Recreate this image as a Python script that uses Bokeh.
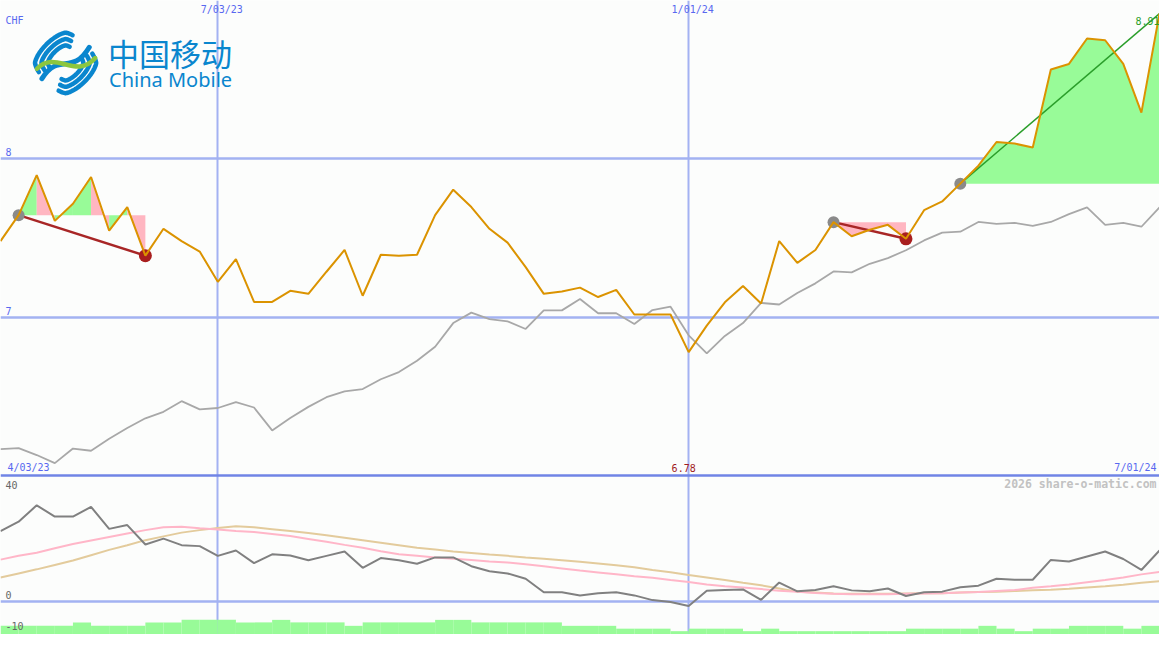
import numpy as np
import pandas as pd
from bokeh.plotting import figure
from bokeh.models import Range1d
from bokeh.core.properties import value
from bokeh.embed import file_html
from bokeh.resources import INLINE

# ---------------- data (weekly closes, CHF) ----------------
dates = pd.date_range("2023-04-10", periods=65, freq="7D")

price = [7.479, 7.642, 7.894, 7.606, 7.714, 7.882, 7.544, 7.693, 7.387, 7.556,
         7.479, 7.413, 7.223, 7.366, 7.096, 7.096, 7.166, 7.147, 7.286, 7.423,
         7.135, 7.393, 7.387, 7.393, 7.642, 7.802, 7.693, 7.556, 7.469, 7.315,
         7.147, 7.162, 7.186, 7.127, 7.172, 7.017, 7.017, 7.017, 6.780, 6.947,
         7.094, 7.196, 7.086, 7.479, 7.342, 7.423, 7.598, 7.509, 7.550, 7.581,
         7.493, 7.673, 7.728, 7.840, 7.953, 8.102, 8.092, 8.067, 8.558, 8.593,
         8.753, 8.742, 8.593, 8.287, 8.910]

benchmark = [6.170, 6.176, 6.133, 6.082, 6.174, 6.160, 6.236, 6.303, 6.364, 6.405,
             6.472, 6.420, 6.429, 6.466, 6.432, 6.288, 6.366, 6.436, 6.497, 6.534,
             6.548, 6.610, 6.655, 6.726, 6.814, 6.963, 7.029, 6.988, 6.974, 6.926,
             7.043, 7.043, 7.115, 7.025, 7.025, 6.957, 7.045, 7.066, 6.886, 6.773,
             6.882, 6.963, 7.090, 7.080, 7.152, 7.213, 7.288, 7.282, 7.336, 7.372,
             7.421, 7.483, 7.532, 7.538, 7.599, 7.587, 7.593, 7.575, 7.599, 7.648,
             7.691, 7.581, 7.593, 7.569, 7.691]

momentum = [22.3, 25.3, 30.5, 26.9, 26.9, 30.0, 23.0, 24.2, 18.0, 19.9,
            17.8, 17.5, 14.4, 16.1, 12.1, 14.9, 14.5, 13.0, 14.4, 15.8,
            10.6, 13.7, 13.0, 11.9, 13.9, 13.9, 11.1, 9.5, 8.8, 7.1,
            2.8, 2.8, 1.8, 2.5, 2.8, 1.8, 0.3, -0.3, -1.6, 3.3,
            3.5, 3.7, 0.4, 5.9, 3.1, 3.5, 4.7, 3.4, 3.1, 4.0,
            1.6, 2.8, 3.0, 4.4, 4.9, 7.1, 6.8, 6.8, 13.1, 12.6,
            14.2, 15.8, 13.4, 9.9, 16.1]

momentum_fast = [13.2, 14.4, 15.4, 16.8, 18.2, 19.3, 20.4, 21.5, 22.6, 23.5,
                 23.7, 23.2, 22.8, 22.3, 22.0, 21.4, 20.7, 19.8, 18.9, 17.9,
                 17.0, 15.9, 14.9, 14.4, 13.9, 13.5, 13.1, 12.6, 12.3, 11.7,
                 11.1, 10.4, 9.7, 9.1, 8.5, 7.9, 7.4, 6.7, 6.1, 5.3,
                 4.7, 4.3, 3.8, 3.3, 3.0, 2.6, 2.3, 2.2, 2.2, 2.2,
                 2.3, 2.4, 2.5, 2.7, 2.9, 3.2, 3.5, 4.2, 4.7, 5.3,
                 6.0, 6.7, 7.5, 8.5, 9.3]

momentum_slow = [7.5, 8.8, 10.1, 11.5, 12.9, 14.6, 16.3, 17.8, 19.4, 20.6,
                 21.8, 22.6, 23.3, 23.8, 23.5, 22.9, 22.3, 21.7, 21.0, 20.2,
                 19.4, 18.6, 17.8, 17.0, 16.4, 15.8, 15.3, 14.8, 14.4, 13.9,
                 13.5, 13.0, 12.5, 12.0, 11.4, 10.8, 9.9, 9.2, 8.3, 7.5,
                 6.7, 5.8, 5.0, 4.0, 3.0, 2.7, 2.4, 2.3, 2.3, 2.3,
                 2.4, 2.5, 2.5, 2.7, 2.9, 3.0, 3.2, 3.4, 3.6, 3.9,
                 4.3, 4.7, 5.2, 5.8, 6.3]

# weekly volume bars, expressed in lower-panel units
volume_level = [-7.9, -7.9, -7.9, -7.9, -6.8, -7.9, -7.9, -7.9, -6.8, -6.8,
                -6.0, -6.0, -6.0, -6.8, -6.8, -6.0, -6.8, -6.8, -6.8, -7.9,
                -6.8, -6.8, -6.8, -6.8, -6.0, -6.0, -6.8, -6.8, -6.8, -6.8,
                -6.8, -7.9, -7.9, -7.9, -8.8, -8.8, -8.8, -9.6, -8.8, -8.8,
                -8.8, -9.6, -8.8, -9.6, -9.6, -9.6, -9.6, -9.6, -9.6, -9.6,
                -8.8, -8.8, -8.8, -8.8, -7.9, -8.8, -9.6, -8.8, -8.8, -7.9,
                -7.9, -7.9, -8.8, -7.9]

closed_signals = [(1, 8), (46, 50)]
open_signal = (53, 64)

grid_dates = [pd.Timestamp("2023-07-03"), pd.Timestamp("2024-01-01")]
grid_date_labels = ["7/03/23", "1/01/24"]
price_ticks = [8, 7]
osc_ticks = [40, 0, -10]
edge_labels = ["4/03/23", "7/01/24"]

# ---------------- geometry / styling ----------------
REF_W, REF_H = 1175, 650
Y_AT_8, PX_PER_CHF = 161.7, 163.0
Y_AT_0, PX_PER_UNIT = 615.7, 3.2175
BG = "#FCFDFC"
GRID = "#A3B2F2"
SEP = "#7084E6"
BLUE_TXT = "#5868F0"
MONO = value("DejaVu Sans Mono")
PRICE_C = "#DB9300"
UP_FILL = "#98FB98"
DOWN_FILL = "#FFB6C1"

p = figure(width=1159, height=634,
           x_range=Range1d(0, REF_W), y_range=Range1d(REF_H, 0),
           x_axis_type=None, y_axis_type=None,
           output_backend="svg", toolbar_location=None,
           min_border=0, outline_line_color=None,
           background_fill_color=BG, border_fill_color=BG)
p.extra_x_ranges = {"date": Range1d(dates[0].to_pydatetime(), dates[-1].to_pydatetime())}
p.extra_y_ranges = {
    "price": Range1d(8 - (REF_H - Y_AT_8) / PX_PER_CHF, 8 + Y_AT_8 / PX_PER_CHF),
    "osc": Range1d(-(REF_H - Y_AT_0) / PX_PER_UNIT, Y_AT_0 / PX_PER_UNIT),
}

D = dict(x_range_name="date", y_range_name="price")
O = dict(x_range_name="date", y_range_name="osc")

# grid
p.vspan(x=grid_dates, x_range_name="date", line_color=GRID, line_width=2)
p.hspan(y=price_ticks, y_range_name="price", line_color=GRID, line_width=2.5)
p.hspan(y=[0], y_range_name="osc", line_color=GRID, line_width=2.5)
p.hspan(y=[40], y_range_name="osc", line_color=SEP, line_width=2.5)

# signal fills
s, e = closed_signals[0]
base = price[s]
for i in range(s, e):
    col = UP_FILL if price[i + 1] >= price[i] else DOWN_FILL
    p.varea(x=dates[i:i + 2], y1=[base, base], y2=price[i:i + 2],
            fill_color=col, **D)
s, e = closed_signals[1]
p.varea(x=dates[s:e + 1], y1=[price[s]] * (e - s + 1), y2=price[s:e + 1],
        fill_color=DOWN_FILL, **D)
s, e = open_signal
p.varea(x=dates[s:e + 1], y1=[price[s]] * (e - s + 1), y2=price[s:e + 1],
        fill_color=UP_FILL, **D)

# trend lines and markers
for s, e in closed_signals:
    p.line(x=[dates[s], dates[e]], y=[price[s], price[e]], line_color="#A82626",
           line_width=2.5, **D)
s, e = open_signal
p.line(x=[dates[s], dates[e]], y=[price[s], price[e]], line_color="#2A9E2A",
       line_width=1.5, **D)
starts = [s for s, _ in closed_signals] + [open_signal[0]]
ends = [e for _, e in closed_signals]
p.scatter(x=[dates[i] for i in starts], y=[price[i] for i in starts], size=12,
          fill_color="#8A8A8A", line_color=None, **D)
p.scatter(x=[dates[i] for i in ends], y=[price[i] for i in ends], size=13,
          fill_color="#A81E1E", line_color=None, **D)

# price & benchmark
p.line(x=dates, y=benchmark, line_color="#A8A8A8", line_width=1.8, **D)
p.line(x=dates, y=price, line_color=PRICE_C, line_width=2, **D)

# lower panel
p.line(x=dates, y=momentum_slow, line_color="#E3CB9C", line_width=2, **O)
p.line(x=dates, y=momentum_fast, line_color="#FFB6C8", line_width=2, **O)
p.line(x=dates, y=momentum, line_color="#808080", line_width=2, **O)
p.quad(left=dates[:-1], right=dates[1:], bottom=-20, top=volume_level,
       fill_color=UP_FILL, line_color=None, **O)


def txt(x, y, s, color, size="10px", align="left", xr="default", yr="default",
        bold=False, font=MONO, x_off=0, y_off=0):
    p.text(x=[x], y=[y], text=[s], text_color=color, text_font=font,
           text_font_size=size, text_align=align, text_baseline="middle",
           text_font_style="bold" if bold else "normal",
           x_offset=x_off, y_offset=y_off, x_range_name=xr, y_range_name=yr)


txt(5, 21, "CHF", BLUE_TXT)
for t in price_ticks:
    txt(5, t, str(t), BLUE_TXT, yr="price", y_off=-6)
for d, lab in zip(grid_dates, grid_date_labels):
    txt(d, 9, lab, BLUE_TXT, align="center", xr="date", x_off=4)
txt(dates[0], 479, edge_labels[0], BLUE_TXT, xr="date", x_off=7)
txt(dates[-1], 479, edge_labels[1], BLUE_TXT, align="right", xr="date", x_off=-3)
imin = int(np.argmin(price))
txt(dates[imin], 479, f"{price[imin]:.2f}", "#A01C1C", align="center", xr="date", x_off=-5)
txt(dates[-1], price[-1], f"{price[-1]:.2f}", "#2A9E2A", align="right",
    xr="date", yr="price", x_off=0, y_off=7)
txt(1172, 496, "2026 share-o-matic.com", "#C2C2C2", size="11.5px", align="right", bold=True)
for t in osc_ticks:
    txt(5, t, str(t), "#666666", yr="osc", y_off=9 if t == osc_ticks[0] else -6)

# logo (rounded diamond bands + S swoosh)
LOGO_BLUE = "#0A86CE"
cx, cy = 66, 64


def rdiamond(r, a0, a1):
    t = np.radians(np.linspace(a0, a1, 50))
    k = 2 / 1.45
    c, s_ = np.cos(t), np.sin(t)
    x = r * np.sign(c) * np.abs(c) ** k
    y = r * np.sign(s_) * np.abs(s_) ** k
    return list(cx + x), list(cy - y)


xs, ys = [], []
for r in (31, 24.5, 18):
    for a0, a1 in ((70, 205), (250, 385)):
        x, y = rdiamond(r, a0, a1)
        xs.append(x)
        ys.append(y)
p.multi_line(xs=xs, ys=ys, line_color=LOGO_BLUE, line_width=4.5, line_cap="round")
p.bezier(x0=[42], y0=[80], x1=[90], y1=[48], cx0=[60], cy0=[52], cx1=[72], cy1=[78],
         line_color=LOGO_BLUE, line_width=5, line_cap="round")
p.bezier(x0=[37], y0=[70], x1=[96], y1=[59], cx0=[56], cy0=[50], cx1=[76], cy1=[82],
         line_color="#8CC63F", line_width=4.5, line_cap="round")
txt(109, 53, "中国移动", LOGO_BLUE, size="31px", font=value("Noto Sans CJK SC"))
txt(110, 81, "China Mobile", LOGO_BLUE, size="20px", font=value("Noto Sans"))

open("out.html", "w").write(file_html(p, INLINE))
